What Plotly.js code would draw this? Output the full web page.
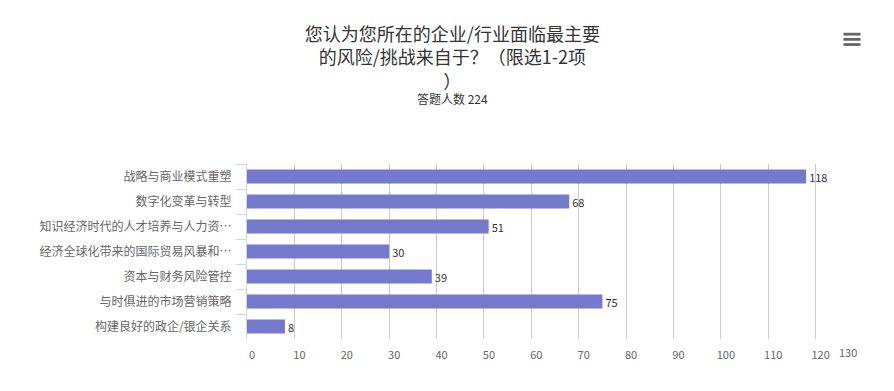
<!DOCTYPE html>
<html>
<head>
<meta charset="utf-8">
<script src="https://cdn.plot.ly/plotly-3.0.1.min.js"></script>
<style>html,body{margin:0;padding:0;background:#fff;}#chart{width:894px;height:391px;}</style>
</head>
<body>
<div id="chart"></div>
<script>
var categories = [
  "战略与商业模式重塑",
  "数字化变革与转型",
  "知识经济时代的人才培养与人力资…",
  "经济全球化带来的国际贸易风暴和…",
  "资本与财务风险管控",
  "与时俱进的市场营销策略",
  "构建良好的政企/银企关系"
];
var values = [118, 68, 51, 30, 39, 75, 8];
var xTickValues = [0, 10, 20, 30, 40, 50, 60, 70, 80, 90, 100, 110, 120, 130];
var titleText = "您认为您所在的企业/行业面临最主要<br>的风险/挑战来自于？（限选1-2项<br>）";
var subtitleText = "答题人数 224";

var fontFamily = '"Noto Sans CJK SC", "Noto Sans", sans-serif';
var lastTick = xTickValues[xTickValues.length - 1];

var trace = {
  type: 'bar',
  orientation: 'h',
  x: values,
  y: categories,
  marker: {color: '#7479cc'},
  text: values.map(String),
  textposition: 'outside',
  constraintext: 'none',
  textfont: {size: 11, color: '#333333', family: fontFamily},
  cliponaxis: false,
  hoverinfo: 'x+y'
};

var pw = 616, ph = 175.5;

var layout = {
  width: 894,
  height: 391,
  margin: {l: 247, r: 31, t: 163.5, b: 52},
  paper_bgcolor: '#ffffff',
  plot_bgcolor: '#ffffff',
  bargap: 0.44,
  showlegend: false,
  font: {family: fontFamily, color: '#666666'},
  title: {
    text: titleText,
    font: {size: 18, color: '#333333', family: fontFamily},
    x: 0.506, xref: 'container', xanchor: 'center',
    y: 0.895, yref: 'container', yanchor: 'top'
  },
  annotations: [{
    text: subtitleText,
    xref: 'paper', yref: 'paper',
    x: (452 - 247) / pw, y: (339 - 98) / ph, xanchor: 'center', yanchor: 'middle',
    showarrow: false,
    font: {size: 12, color: '#333333', family: fontFamily}
  }, {
    text: String(lastTick),
    xref: 'x', yref: 'paper',
    x: lastTick, y: 0, xanchor: 'center', yanchor: 'top',
    xshift: -15, yshift: -3,
    showarrow: false,
    font: {size: 11, color: '#666666', family: fontFamily}
  }],
  xaxis: {
    range: [0, 130],
    tickmode: 'array',
    tickvals: xTickValues,
    ticktext: xTickValues.map(function (v) { return v === lastTick ? '' : String(v); }),
    showgrid: true,
    gridcolor: '#cccccc',
    gridwidth: 1,
    zeroline: false,
    showline: false,
    ticks: '',
    ticklabelstandoff: 8,
    ticklabelshift: 5,
    tickfont: {size: 11, color: '#666666', family: fontFamily},
    fixedrange: true
  },
  yaxis: {
    type: 'category',
    autorange: 'reversed',
    showline: true,
    linecolor: '#ccd6eb',
    linewidth: 1,
    ticks: 'outside',
    tickson: 'boundaries',
    ticklen: 10,
    tickcolor: '#ccd6eb',
    tickwidth: 1,
    ticklabelstandoff: 12,
    showgrid: false,
    tickfont: {size: 12, color: '#666666', family: fontFamily},
    fixedrange: true
  },
  shapes: [33.3, 38.5, 43.7].map(function (py) {
    return {
      type: 'rect', xref: 'paper', yref: 'paper',
      x0: (843.5 - 247) / pw, x1: (860.5 - 247) / pw,
      y0: (339 - py - 1.4) / ph, y1: (339 - py + 1.4) / ph,
      fillcolor: '#666666', line: {width: 0}
    };
  })
};

Plotly.newPlot('chart', [trace], layout, {displayModeBar: false});
</script>
</body>
</html>
